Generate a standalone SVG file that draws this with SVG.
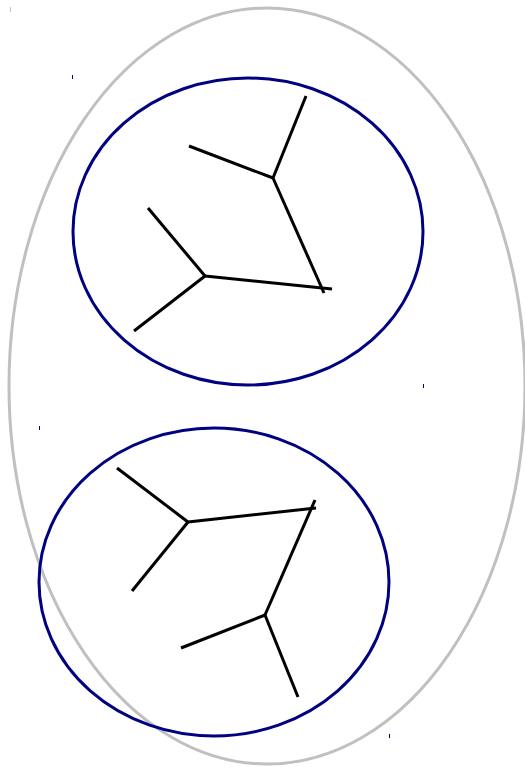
<svg xmlns="http://www.w3.org/2000/svg" width="525" height="768" viewBox="0 0 525 768">
<style>
.outer{fill:none;stroke:#c0c0c0;stroke-width:3}
.cl{fill:none;stroke:#000080;stroke-width:3}
.e{stroke:#000;stroke-width:3;stroke-linecap:butt;fill:none}
.tk{stroke:#000080;stroke-width:1}
.tkg{stroke:#c0c0c0;stroke-width:1}
</style>
<rect width="525" height="768" fill="#fff"/>
<g id="outer">
<ellipse class="outer" cx="267" cy="386" rx="258" ry="378"/>
<line class="tkg" x1="10.5" y1="7" x2="10.5" y2="12"/>
</g>
<g id="cluster1">
<ellipse class="cl" cx="248" cy="231.5" rx="175" ry="153.5"/>
<line class="tk" x1="72.5" y1="75" x2="72.5" y2="79"/>
<line class="tk" x1="423.5" y1="384" x2="423.5" y2="388"/>
</g>
<g id="cluster2">
<ellipse class="cl" cx="214" cy="582" rx="175" ry="154"/>
<line class="tk" x1="39.5" y1="426" x2="39.5" y2="430"/>
<line class="tk" x1="389.5" y1="734" x2="389.5" y2="738"/>
</g>
<g id="connectors">
<line class="e" x1="273" y1="178" x2="306" y2="96"/>
<line class="e" x1="273" y1="178" x2="189" y2="146"/>
<line class="e" x1="273" y1="178" x2="324" y2="293"/>
<line class="e" x1="205" y1="276" x2="148" y2="208"/>
<line class="e" x1="205" y1="276" x2="134" y2="331"/>
<line class="e" x1="205" y1="276" x2="332" y2="289"/>
<line class="e" x1="188" y1="522" x2="117" y2="468"/>
<line class="e" x1="188" y1="522" x2="132" y2="591"/>
<line class="e" x1="188" y1="522" x2="316" y2="508"/>
<line class="e" x1="265" y1="615" x2="315" y2="500"/>
<line class="e" x1="265" y1="615" x2="181" y2="648"/>
<line class="e" x1="265" y1="615" x2="298" y2="697"/>
</g>
</svg>
